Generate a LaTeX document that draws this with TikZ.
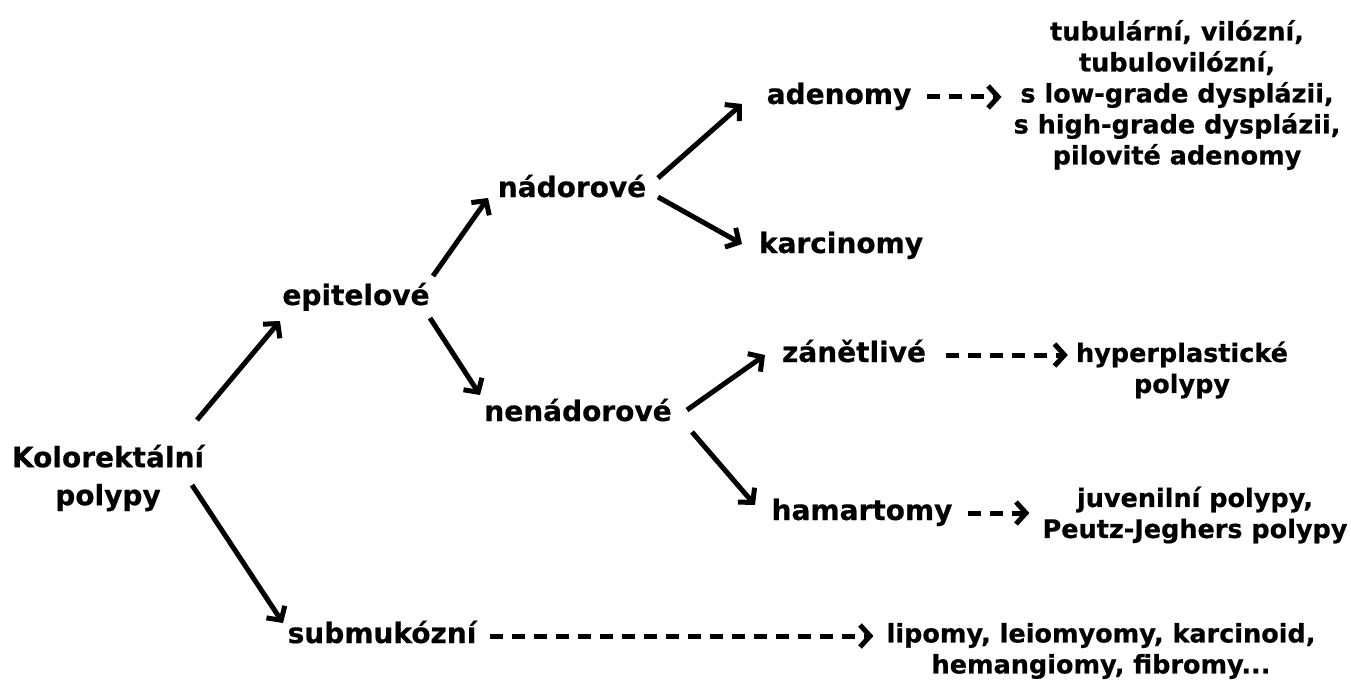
\documentclass[tikz,border=0pt]{standalone}
\usepackage{fontspec}
\setmainfont{DejaVu Sans}[BoldFeatures={FakeBold=0.6}]
\usetikzlibrary{arrows.meta, positioning, calc}
\tikzset{
  polypy/.style={
	x=1pt, y=-1pt, % one unit is one pixel of the drawing, y going down
	every node/.style={inner sep=0pt}, % nodes hug their text
	kind/.style={font=\fontsize{28}{38}\selectfont\bfseries, text height=20pt, text depth=6pt}, % the kinds of polyps
	kolo/.style={font=\fontsize{28}{38}\selectfont\bfseries, align=center}, % the root label
	list/.style={font=\fontsize{25.5}{31}\selectfont\bfseries, align=center}, % the lists at the right
	branch/.style={-{Straight Barb[length=10pt,width=22pt]}, line width=5pt}, % solid arrows
	detail/.style={branch, dash pattern=on 13pt off 9pt}, % dashed arrows
  }
}
\begin{document}
\begin{tikzpicture}[polypy]
\useasboundingbox (0,0) rectangle (1351,690);

\node[kolo] (kolo) at (108,478) {Kolorektální\\polypy};
\node[kind] (epi) at (356,298) {epitelové};
\node[kind] (submuk) at (382,636) {submukózní};
\node[kind] (nad) at (572,190) {nádorové};
\node[kind] (nenad) at (578,414) {nenádorové};
\node[kind] (aden) at (839,97) {adenomy};
\node[kind] (karc) at (841,246) {karcinomy};
\node[kind] (zan) at (854,355) {zánětlivé};
\node[kind] (hamar) at (862,513) {hamartomy};

\node[list] (alist) at (1177,95) {tubulární, vilózní,\\tubulovilózní,\\s low-grade dysplázii,\\s high-grade dysplázii,\\pilovité adenomy};
\node[list] (hyper) at (1182,370) {hyperplastické\\polypy};
\node[list] (juv) at (1195,515) {juvenilní polypy,\\Peutz-Jeghers polypy};
\node[list] (lipo) at (1101,651) {lipomy, leiomyomy, karcinoid,\\hemangiomy, fibromy...};

\draw[branch] ([shift={(89,-58)}]kolo.center) -- ([shift={(-76,23)}]epi.center);
\draw[branch] ([shift={(84,7)}]kolo.center) -- ([shift={(-99,-13)}]submuk.center);
\draw[branch] ([shift={(77,-22)}]epi.center) -- ([shift={(-84,8)}]nad.center);
\draw[branch] ([shift={(74,20)}]epi.center) -- ([shift={(-98,-19)}]nenad.center);
\draw[branch] ([shift={(86,-12)}]nad.center) -- ([shift={(-97,7)}]aden.center);
\draw[branch] ([shift={(86,7)}]nad.center) -- ([shift={(-99,-2)}]karc.center);
\draw[branch] ([shift={(109,-4)}]nenad.center) -- ([shift={(-89,0)}]zan.center);
\draw[branch] ([shift={(114,18)}]nenad.center) -- ([shift={(-107,-8)}]hamar.center);

\draw[detail, shorten <=16pt, shorten >=12pt] (aden.east) -- (aden.east -| alist.west);
\draw[detail, shorten <=20pt, shorten >=8pt] (zan.east) -- (zan.east -| hyper.west);
\draw[detail, shorten <=15pt, shorten >=13pt] (hamar.east) -- (hamar.east -| juv.west);
\draw[detail, shorten <=13pt, shorten >=13pt] (submuk.east) -- (submuk.east -| lipo.west);
\end{tikzpicture}
\end{document}
